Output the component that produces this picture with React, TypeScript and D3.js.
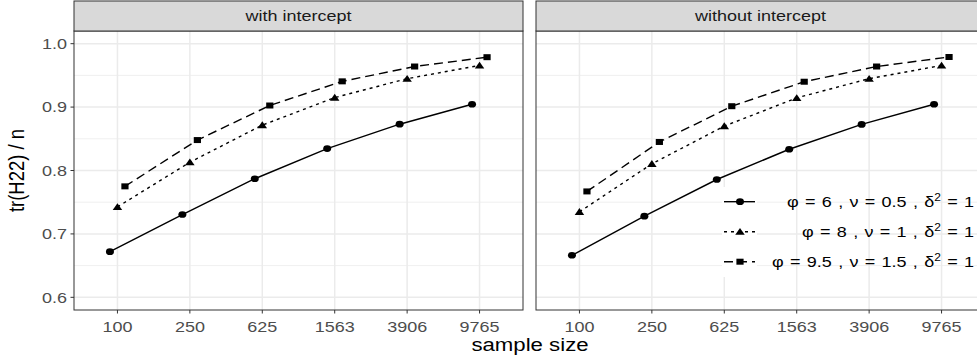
import React from "react";
import * as d3 from "d3";

const categories = ["100", "250", "625", "1563", "3906", "9765"];
const panels = ["with intercept", "without intercept"];
const yTicks = [0.6, 0.7, 0.8, 0.9, 1.0];
const yMinor = [0.65, 0.75, 0.85, 0.95];

const seriesNames = ["s1", "s2", "s3"];
const withIntercept_s1 = [0.672, 0.7306, 0.787, 0.8345, 0.873, 0.9045];
const withIntercept_s2 = [0.7426, 0.813, 0.8716, 0.915, 0.9448, 0.9657];
const withIntercept_s3 = [0.775, 0.848, 0.9025, 0.9406, 0.964, 0.9787];
const withoutIntercept_s1 = [0.6663, 0.728, 0.7858, 0.8335, 0.8727, 0.9045];
const withoutIntercept_s2 = [0.7348, 0.8105, 0.87, 0.9145, 0.9448, 0.9657];
const withoutIntercept_s3 = [0.767, 0.845, 0.9014, 0.94, 0.964, 0.979];

const legendLabels = [
  { a: "φ = 6 , ν = 0.5 , δ", b: "2", c: " = 1" },
  { a: "φ = 8 , ν = 1 , δ", b: "2", c: " = 1" },
  { a: "φ = 9.5 , ν = 1.5 , δ", b: "2", c: " = 1" },
];

const panelData = [
  [withIntercept_s1, withIntercept_s2, withIntercept_s3],
  [withoutIntercept_s1, withoutIntercept_s2, withoutIntercept_s3],
];

const W = 977;
const H = 360;
const SX = 1.2;
const FONT = "'Liberation Sans', Arial, Helvetica, sans-serif";
const panelX = [74, 536];
const panelW = 449;
const top = 31;
const bottom = 310;
const stripTop = 1;
const dodge = [-7.5, 0, 7.5];
const dashes = [null, "3,4", "9,5"];
const symbols = [d3.symbolCircle, d3.symbolTriangle, d3.symbolSquare];
const symSizes = [35, 27, 36];

const y = d3.scaleLinear().domain([0.58, 1.02]).range([bottom, top]);

function SText({ x, y: yy, anchor = "middle", size, fill, children, rotate = false, wordSpacing }: any) {
  const tr = rotate
    ? `translate(${x},${yy}) scale(${SX},1) rotate(-90)`
    : `translate(${x},${yy}) scale(${SX},1)`;
  return (
    <g transform={tr}>
      <text textAnchor={anchor} fontSize={size} fill={fill} fontFamily={FONT} style={wordSpacing ? { wordSpacing: wordSpacing + "px", whiteSpace: "pre" } : undefined}>
        {children}
      </text>
    </g>
  );
}

function Marker({ i, x, yy }: any) {
  const p = d3.symbol().type(symbols[i]).size(symSizes[i])() as string;
  const dy = i === 1 ? 0.8 : 0;
  return <path d={p} transform={`translate(${x},${yy + dy}) scale(${SX},1)`} fill="#000" />;
}

export default function App() {
  return (
    <svg width={W} height={H} style={{ display: "block", position: "absolute", left: 0, top: 0 }}>
      <rect x={0} y={0} width={W} height={H} fill="#fff" />
      {panels.map((name, pi) => {
        const x0 = panelX[pi];
        const x = d3.scalePoint().domain(categories).range([x0, x0 + panelW]).padding(0.6);
        const line = d3
          .line<[number, number]>()
          .x((d) => d[0])
          .y((d) => d[1]);
        return (
          <g key={name}>
            <rect x={x0} y={top} width={panelW} height={bottom - top} fill="#fff" />
            {yMinor.map((v) => (
              <line key={"m" + v} x1={x0} x2={x0 + panelW} y1={y(v)} y2={y(v)} stroke="#EBEBEB" strokeWidth={0.8} />
            ))}
            {yTicks.map((v) => (
              <line key={"M" + v} x1={x0} x2={x0 + panelW} y1={y(v)} y2={y(v)} stroke="#EBEBEB" strokeWidth={1.5} />
            ))}
            {categories.map((c) => (
              <line key={c} x1={x(c)} x2={x(c)} y1={top} y2={bottom} stroke="#EBEBEB" strokeWidth={1.5} />
            ))}
            {pi === 1 &&
              legendLabels.map((l, i) => (
                <rect key={"lk" + i} x={722} y={187 + i * 30} width={35} height={30} fill="#fff" />
              ))}
            {panelData[pi].map((vals, si) => {
              const pts: [number, number][] = vals.map((v, k) => [(x(categories[k]) as number) + dodge[si], y(v)]);
              return (
                <g key={seriesNames[si]}>
                  <path
                    d={line(pts) as string}
                    fill="none"
                    stroke="#000"
                    strokeWidth={1.4}
                    strokeDasharray={dashes[si] ?? undefined}
                  />
                  {pts.map((p, k) => (
                    <Marker key={k} i={si} x={p[0]} yy={p[1]} />
                  ))}
                </g>
              );
            })}
            <rect x={x0} y={top} width={panelW} height={bottom - top} fill="none" stroke="#333" strokeWidth={1} />
            <rect x={x0} y={stripTop} width={panelW} height={top - stripTop} fill="#D9D9D9" stroke="#333" strokeWidth={1} />
            <SText x={x0 + panelW / 2} y={top - 10} size={15} fill="#1A1A1A">
              {name}
            </SText>
            {categories.map((c) => (
              <g key={"t" + c}>
                <line x1={x(c)} x2={x(c)} y1={bottom} y2={bottom + 3.5} stroke="#333" strokeWidth={1} />
                <SText x={x(c)} y={bottom + 21.5} size={15} fill="#4D4D4D">
                  {c}
                </SText>
              </g>
            ))}
            {pi === 0 &&
              yTicks.map((v) => (
                <g key={"yt" + v}>
                  <line x1={x0 - 3.5} x2={x0} y1={y(v)} y2={y(v)} stroke="#333" strokeWidth={1} />
                  <SText x={x0 - 7} y={y(v) + 5.3} anchor="end" size={15} fill="#4D4D4D">
                    {v.toFixed(1)}
                  </SText>
                </g>
              ))}
          </g>
        );
      })}
      {/* legend */}
      <g>
        {legendLabels.map((l, i) => {
          const cy = 201.7 + i * 30;
          return (
            <g key={i}>
              <line x1={724} x2={755} y1={cy} y2={cy} stroke="#000" strokeWidth={1.4} strokeDasharray={dashes[i] ?? undefined} />
              <Marker i={i} x={740} yy={cy} />
              <SText x={974} y={cy + 5.5} anchor="end" size={15} fill="#000" wordSpacing={1.1}>
                {l.a}
                <tspan fontSize={10} dy={-6}>{l.b}</tspan>
                <tspan dy={6}>{l.c}</tspan>
              </SText>
            </g>
          );
        })}
      </g>
      <SText x={530} y={351} size={18.5} fill="#000">
        sample size
      </SText>
      <SText x={24} y={170.5} size={18.5} fill="#000" rotate>
        tr(H22) / n
      </SText>
    </svg>
  );
}
